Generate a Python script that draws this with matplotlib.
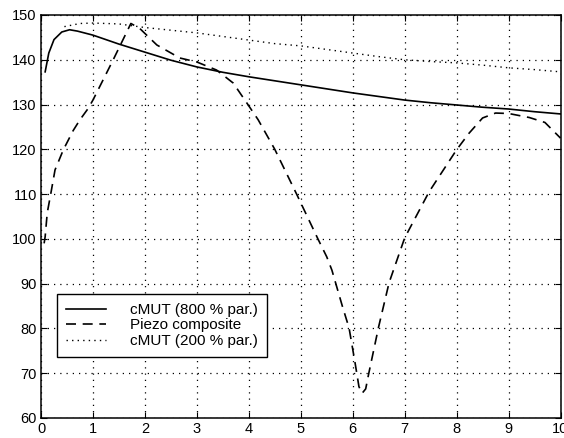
"""Recreation of the cMUT vs piezo composite comparison chart."""

import matplotlib
matplotlib.use("Agg")
import matplotlib.pyplot as plt

# cMUT (800 % par.) - solid
cmut800_x = [0.08, 0.15, 0.25, 0.4, 0.55, 0.7, 1.0, 1.5, 2.0, 2.5, 3.0, 3.5, 4.0, 4.5,
             5.0, 5.5, 6.0, 6.5, 7.0, 7.5, 8.0, 8.5, 9.0, 9.5, 10.0]
cmut800_y = [137.3, 141.5, 144.5, 146.2, 146.7, 146.4, 145.5, 143.5, 141.7, 139.9, 138.4,
             137.2, 136.2, 135.3, 134.4, 133.5, 132.6, 131.8, 131.0, 130.4, 129.9, 129.4,
             129.0, 128.4, 127.9]

# Piezo composite - dashed
piezo_x = [0.06, 0.08, 0.12, 0.19, 0.27, 0.43, 0.62, 0.75, 0.9, 1.0, 1.39, 1.73, 1.9,
           2.23, 2.67, 3.0, 3.38, 3.7, 4.0, 4.18, 4.5, 4.92, 5.33, 5.5, 5.6, 5.8, 5.93,
           6.05, 6.12, 6.18, 6.25, 6.31, 6.5, 6.7, 7.0, 7.47, 8.0, 8.24, 8.5, 8.75, 9.0,
           9.4, 9.7, 10.0]
piezo_y = [99.0, 100.5, 105.8, 110.2, 115.4, 119.9, 124.2, 126.6, 129.0, 131.0, 140.0,
           148.1, 147.0, 143.3, 140.4, 139.5, 137.7, 134.8, 129.7, 126.6, 120.0, 110.0,
           100.0, 96.0, 93.0, 85.0, 80.1, 72.0, 67.0, 65.5, 66.5, 70.0, 80.4, 90.2,
           100.2, 110.5, 119.9, 123.6, 127.0, 128.1, 128.0, 127.1, 126.0, 122.5]

# cMUT (200 % par.) - dotted
cmut200_x = [0.45, 0.75, 1.0, 1.5, 2.0, 2.5, 3.0, 3.5, 4.0, 4.5, 5.0, 5.5, 6.0, 6.5,
             7.0, 7.5, 8.0, 8.5, 9.0, 9.5, 10.0]
cmut200_y = [147.4, 148.1, 148.2, 148.0, 147.2, 146.6, 146.0, 145.2, 144.4, 143.6, 143.1,
             142.3, 141.5, 140.7, 140.0, 139.6, 139.3, 138.8, 138.2, 137.8, 137.3]

labels = ["cMUT (800 % par.)", "Piezo composite", "cMUT (200 % par.)"]

plt.rcParams["font.family"] = ["Liberation Sans", "DejaVu Sans"]

fig = plt.figure(figsize=(5.64, 4.38), dpi=100)
ax = fig.add_axes([0.0727, 0.0457, 0.9211, 0.9201])

ax.plot(cmut800_x, cmut800_y, color="black", lw=1.2, linestyle="-", label=labels[0])
ax.plot(piezo_x, piezo_y, color="black", lw=1.2, linestyle=(0, (6, 4)), label=labels[1])
ax.plot(cmut200_x, cmut200_y, color="black", lw=1.0, linestyle=(0, (1, 3)), label=labels[2])

ax.set_xlim(0, 10)
ax.set_ylim(60, 150)
ax.set_xticks(range(0, 11))
ax.set_yticks(range(60, 151, 10))
ax.grid(True, color="black", linestyle=(0, (1, 4)), linewidth=0.9)
ax.tick_params(direction="in", top=True, right=True, length=4, labelsize=10.5, pad=3)
for s in ax.spines.values():
    s.set_linewidth(1.1)

leg = ax.legend(loc="lower left", bbox_to_anchor=(0.031, 0.151), borderaxespad=0,
                fontsize=11, handlelength=2.6, handletextpad=1.6, fancybox=False,
                edgecolor="black", framealpha=1, labelspacing=0.1, borderpad=0.6)
leg.get_frame().set_linewidth(1.0)

fig.savefig("out.png", dpi=100)
